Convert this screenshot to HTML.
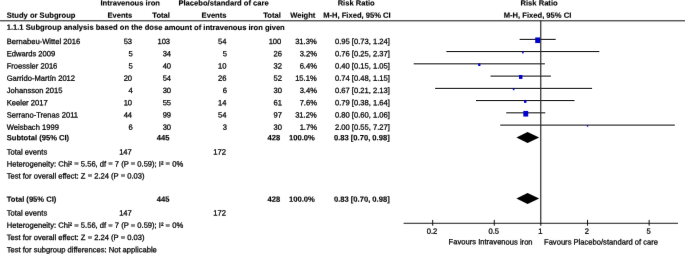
<!DOCTYPE html>
<html><head><meta charset="utf-8"><title>Forest plot</title>
<style>
html,body{margin:0;padding:0;background:#fff;overflow:hidden;}
svg{display:block;}
text{font-family:"Liberation Sans",sans-serif;font-size:7.6px;fill:#000;text-rendering:geometricPrecision;stroke:#000;stroke-width:0.26px;}
text[font-weight=bold]{stroke-width:0.14px;}
text.eq{stroke-width:0.32px;}
</style></head><body>
<svg width="685" height="254" viewBox="0 0 685 254">
<defs><filter id="bl" x="0" y="0" width="685" height="254" filterUnits="userSpaceOnUse" color-interpolation-filters="sRGB"><feConvolveMatrix order="3" kernelMatrix="0.0028 0.0470 0.0028 0.0470 0.8008 0.0470 0.0028 0.0470 0.0028" edgeMode="none" preserveAlpha="false"/></filter></defs>
<rect width="685" height="254" fill="#fff"/>
<g>
<line x1="520.13" y1="39.35" x2="555.18" y2="39.35" stroke="#000" stroke-width="0.95" stroke-linecap="square"/>
<line x1="446.90" y1="51.60" x2="598.82" y2="51.60" stroke="#000" stroke-width="0.95" stroke-linecap="square"/>
<line x1="414.20" y1="63.85" x2="544.36" y2="63.85" stroke="#000" stroke-width="0.95" stroke-linecap="square"/>
<line x1="491.04" y1="76.10" x2="550.40" y2="76.10" stroke="#000" stroke-width="0.95" stroke-linecap="square"/>
<line x1="435.65" y1="88.35" x2="591.61" y2="88.35" stroke="#000" stroke-width="0.95" stroke-linecap="square"/>
<line x1="476.47" y1="100.60" x2="574.00" y2="100.60" stroke="#000" stroke-width="0.95" stroke-linecap="square"/>
<line x1="506.73" y1="112.85" x2="544.78" y2="112.85" stroke="#000" stroke-width="0.95" stroke-linecap="square"/>
<line x1="500.75" y1="125.10" x2="674.28" y2="125.10" stroke="#000" stroke-width="0.95" stroke-linecap="square"/>
</g>
<g filter="url(#bl)">
<rect x="535.21" y="37.45" width="4.90" height="5.60" fill="#0000cc"/>
<rect x="522.08" y="51.60" width="1.57" height="1.79" fill="#0000cc"/>
<rect x="478.17" y="63.48" width="2.22" height="2.53" fill="#0000cc"/>
<rect x="519.02" y="75.06" width="3.40" height="3.89" fill="#0000cc"/>
<rect x="512.82" y="88.33" width="1.61" height="1.85" fill="#0000cc"/>
<rect x="524.03" y="100.12" width="2.41" height="2.76" fill="#0000cc"/>
<rect x="523.31" y="110.95" width="4.89" height="5.59" fill="#0000cc"/>
<rect x="586.86" y="125.25" width="1.30" height="1.50" fill="#0000cc"/>
<polygon points="516.41,137.4 527.57,131.9 539.14,137.4 527.57,142.9" fill="#000"/>
<polygon points="516.41,198.5 527.57,193.0 539.14,198.5 527.57,204.0" fill="#000"/>
<rect x="0" y="20.3" width="685" height="1" fill="#111"/>
<rect x="540.15" y="20.3" width="1.2" height="205.4" fill="#2c2c2c"/>
<rect x="403.6" y="222.8" width="274.4" height="0.9" fill="#000"/>
<rect x="432.17" y="219.9" width="1" height="5.8" fill="#111"/>
<rect x="493.79" y="219.9" width="1" height="5.8" fill="#111"/>
<rect x="587.01" y="219.9" width="1" height="5.8" fill="#111"/>
<rect x="648.63" y="219.9" width="1" height="5.8" fill="#111"/>
<text x="130.20" y="5.55" font-weight="bold" text-anchor="middle" transform="rotate(0.03 130.20 5.55)">Intravenous iron</text>
<text x="223.60" y="5.55" font-weight="bold" text-anchor="middle" transform="rotate(0.03 223.60 5.55)">Placebo/standard of care</text>
<text x="356.20" y="5.55" font-weight="bold" text-anchor="middle" transform="rotate(0.03 356.20 5.55)">Risk Ratio</text>
<text x="539.10" y="5.55" font-weight="bold" text-anchor="middle" transform="rotate(0.03 539.10 5.55)">Risk Ratio</text>
<text x="6.70" y="17.80" font-weight="bold" transform="rotate(0.03 6.70 17.80)">Study or Subgroup</text>
<text x="132.30" y="17.80" font-weight="bold" text-anchor="end" transform="rotate(0.03 132.30 17.80)">Events</text>
<text x="169.90" y="17.80" font-weight="bold" text-anchor="end" transform="rotate(0.03 169.90 17.80)">Total</text>
<text x="226.50" y="17.80" font-weight="bold" text-anchor="end" transform="rotate(0.03 226.50 17.80)">Events</text>
<text x="280.80" y="17.80" font-weight="bold" text-anchor="end" transform="rotate(0.03 280.80 17.80)">Total</text>
<text x="315.30" y="17.80" font-weight="bold" text-anchor="end" transform="rotate(0.03 315.30 17.80)">Weight</text>
<text x="390.70" y="17.80" font-weight="bold" text-anchor="end" transform="rotate(0.03 390.70 17.80)">M-H, Fixed, 95% CI</text>
<text x="537.50" y="17.80" font-weight="bold" text-anchor="middle" transform="rotate(0.03 537.50 17.80)">M-H, Fixed, 95% CI</text>
<text x="6.70" y="29.80" font-weight="bold" transform="rotate(0.03 6.70 29.80)">1.1.1 Subgroup analysis based on the dose amount of intravenous iron given</text>
<text x="6.70" y="44.00" transform="rotate(0.03 6.70 44.00)">Bernabeu-Wittel 2016</text>
<text x="132.10" y="44.00" text-anchor="end" transform="rotate(0.03 132.10 44.00)">53</text>
<text x="170.10" y="44.00" text-anchor="end" transform="rotate(0.03 170.10 44.00)">103</text>
<text x="226.40" y="44.00" text-anchor="end" transform="rotate(0.03 226.40 44.00)">54</text>
<text x="281.30" y="44.00" text-anchor="end" transform="rotate(0.03 281.30 44.00)">100</text>
<text x="316.70" y="44.00" text-anchor="end" transform="rotate(0.03 316.70 44.00)">31.3%</text>
<text x="389.80" y="44.00" text-anchor="end" transform="rotate(0.03 389.80 44.00)">0.95 [0.73, 1.24]</text>
<text x="6.70" y="56.25" transform="rotate(0.03 6.70 56.25)">Edwards 2009</text>
<text x="132.70" y="56.25" text-anchor="end" transform="rotate(0.03 132.70 56.25)">5</text>
<text x="171.10" y="56.25" text-anchor="end" transform="rotate(0.03 171.10 56.25)">34</text>
<text x="227.10" y="56.25" text-anchor="end" transform="rotate(0.03 227.10 56.25)">5</text>
<text x="282.00" y="56.25" text-anchor="end" transform="rotate(0.03 282.00 56.25)">26</text>
<text x="316.95" y="56.25" text-anchor="end" transform="rotate(0.03 316.95 56.25)">3.2%</text>
<text x="389.80" y="56.25" text-anchor="end" transform="rotate(0.03 389.80 56.25)">0.76 [0.25, 2.37]</text>
<text x="6.70" y="68.50" transform="rotate(0.03 6.70 68.50)">Froessler 2016</text>
<text x="132.70" y="68.50" text-anchor="end" transform="rotate(0.03 132.70 68.50)">5</text>
<text x="171.10" y="68.50" text-anchor="end" transform="rotate(0.03 171.10 68.50)">40</text>
<text x="226.40" y="68.50" text-anchor="end" transform="rotate(0.03 226.40 68.50)">10</text>
<text x="282.00" y="68.50" text-anchor="end" transform="rotate(0.03 282.00 68.50)">32</text>
<text x="316.95" y="68.50" text-anchor="end" transform="rotate(0.03 316.95 68.50)">6.4%</text>
<text x="389.80" y="68.50" text-anchor="end" transform="rotate(0.03 389.80 68.50)">0.40 [0.15, 1.05]</text>
<text x="6.70" y="80.75" transform="rotate(0.03 6.70 80.75)">Garrido-Martín 2012</text>
<text x="132.10" y="80.75" text-anchor="end" transform="rotate(0.03 132.10 80.75)">20</text>
<text x="171.10" y="80.75" text-anchor="end" transform="rotate(0.03 171.10 80.75)">54</text>
<text x="226.40" y="80.75" text-anchor="end" transform="rotate(0.03 226.40 80.75)">26</text>
<text x="282.00" y="80.75" text-anchor="end" transform="rotate(0.03 282.00 80.75)">52</text>
<text x="316.70" y="80.75" text-anchor="end" transform="rotate(0.03 316.70 80.75)">15.1%</text>
<text x="389.80" y="80.75" text-anchor="end" transform="rotate(0.03 389.80 80.75)">0.74 [0.48, 1.15]</text>
<text x="6.70" y="93.00" transform="rotate(0.03 6.70 93.00)">Johansson 2015</text>
<text x="132.70" y="93.00" text-anchor="end" transform="rotate(0.03 132.70 93.00)">4</text>
<text x="171.10" y="93.00" text-anchor="end" transform="rotate(0.03 171.10 93.00)">30</text>
<text x="227.10" y="93.00" text-anchor="end" transform="rotate(0.03 227.10 93.00)">6</text>
<text x="282.00" y="93.00" text-anchor="end" transform="rotate(0.03 282.00 93.00)">30</text>
<text x="316.95" y="93.00" text-anchor="end" transform="rotate(0.03 316.95 93.00)">3.4%</text>
<text x="389.80" y="93.00" text-anchor="end" transform="rotate(0.03 389.80 93.00)">0.67 [0.21, 2.13]</text>
<text x="6.70" y="105.25" transform="rotate(0.03 6.70 105.25)">Keeler 2017</text>
<text x="132.10" y="105.25" text-anchor="end" transform="rotate(0.03 132.10 105.25)">10</text>
<text x="171.10" y="105.25" text-anchor="end" transform="rotate(0.03 171.10 105.25)">55</text>
<text x="226.40" y="105.25" text-anchor="end" transform="rotate(0.03 226.40 105.25)">14</text>
<text x="282.00" y="105.25" text-anchor="end" transform="rotate(0.03 282.00 105.25)">61</text>
<text x="316.95" y="105.25" text-anchor="end" transform="rotate(0.03 316.95 105.25)">7.6%</text>
<text x="389.80" y="105.25" text-anchor="end" transform="rotate(0.03 389.80 105.25)">0.79 [0.38, 1.64]</text>
<text x="6.70" y="117.50" transform="rotate(0.03 6.70 117.50)">Serrano-Trenas 2011</text>
<text x="132.10" y="117.50" text-anchor="end" transform="rotate(0.03 132.10 117.50)">44</text>
<text x="171.10" y="117.50" text-anchor="end" transform="rotate(0.03 171.10 117.50)">99</text>
<text x="226.40" y="117.50" text-anchor="end" transform="rotate(0.03 226.40 117.50)">54</text>
<text x="282.00" y="117.50" text-anchor="end" transform="rotate(0.03 282.00 117.50)">97</text>
<text x="316.70" y="117.50" text-anchor="end" transform="rotate(0.03 316.70 117.50)">31.2%</text>
<text x="389.80" y="117.50" text-anchor="end" transform="rotate(0.03 389.80 117.50)">0.80 [0.60, 1.06]</text>
<text x="6.70" y="129.75" transform="rotate(0.03 6.70 129.75)">Weisbach 1999</text>
<text x="132.70" y="129.75" text-anchor="end" transform="rotate(0.03 132.70 129.75)">6</text>
<text x="171.10" y="129.75" text-anchor="end" transform="rotate(0.03 171.10 129.75)">30</text>
<text x="227.10" y="129.75" text-anchor="end" transform="rotate(0.03 227.10 129.75)">3</text>
<text x="282.00" y="129.75" text-anchor="end" transform="rotate(0.03 282.00 129.75)">30</text>
<text x="316.95" y="129.75" text-anchor="end" transform="rotate(0.03 316.95 129.75)">1.7%</text>
<text x="389.80" y="129.75" text-anchor="end" transform="rotate(0.03 389.80 129.75)">2.00 [0.55, 7.27]</text>
<text x="6.70" y="140.20" font-weight="bold" transform="rotate(0.03 6.70 140.20)">Subtotal (95% CI)</text>
<text x="169.50" y="140.20" font-weight="bold" text-anchor="end" transform="rotate(0.03 169.50 140.20)">445</text>
<text x="280.20" y="140.20" font-weight="bold" text-anchor="end" transform="rotate(0.03 280.20 140.20)">428</text>
<text x="314.80" y="140.20" font-weight="bold" text-anchor="end" transform="rotate(0.03 314.80 140.20)">100.0%</text>
<text x="389.70" y="140.20" font-weight="bold" text-anchor="end" transform="rotate(0.03 389.70 140.20)">0.83 [0.70, 0.98]</text>
<text x="6.70" y="154.40" transform="rotate(0.03 6.70 154.40)">Total events</text>
<text x="131.80" y="154.40" text-anchor="end" transform="rotate(0.03 131.80 154.40)">147</text>
<text x="226.00" y="154.40" text-anchor="end" transform="rotate(0.03 226.00 154.40)">172</text>
<text x="6.70" y="166.50" transform="rotate(0.03 6.70 166.50)">Heterogeneity: Chi²</text>
<text class="eq" x="74.29" y="166.50" transform="translate(0 163.85) scale(1 0.62) translate(0 -163.85) rotate(0.03 74.29 166.50)">=</text>
<text x="80.84" y="166.50" transform="rotate(0.03 80.84 166.50)">5.56, df</text>
<text class="eq" x="108.30" y="166.50" transform="translate(0 163.85) scale(1 0.62) translate(0 -163.85) rotate(0.03 108.30 166.50)">=</text>
<text x="114.85" y="166.50" transform="rotate(0.03 114.85 166.50)">7 (P</text>
<text class="eq" x="130.76" y="166.50" transform="translate(0 163.85) scale(1 0.62) translate(0 -163.85) rotate(0.03 130.76 166.50)">=</text>
<text x="137.32" y="166.50" transform="rotate(0.03 137.32 166.50)">0.59); I²</text>
<text class="eq" x="165.61" y="166.50" transform="translate(0 163.85) scale(1 0.62) translate(0 -163.85) rotate(0.03 165.61 166.50)">=</text>
<text x="172.17" y="166.50" transform="rotate(0.03 172.17 166.50)">0%</text>
<text x="6.70" y="178.40" transform="rotate(0.03 6.70 178.40)">Test for overall effect: Z</text>
<text class="eq" x="87.66" y="178.40" transform="translate(0 175.75) scale(1 0.62) translate(0 -175.75) rotate(0.03 87.66 178.40)">=</text>
<text x="94.21" y="178.40" transform="rotate(0.03 94.21 178.40)">2.24 (P</text>
<text class="eq" x="120.69" y="178.40" transform="translate(0 175.75) scale(1 0.62) translate(0 -175.75) rotate(0.03 120.69 178.40)">=</text>
<text x="127.24" y="178.40" transform="rotate(0.03 127.24 178.40)">0.03)</text>
<text x="6.70" y="201.80" font-weight="bold" transform="rotate(0.03 6.70 201.80)">Total (95% CI)</text>
<text x="169.50" y="201.80" font-weight="bold" text-anchor="end" transform="rotate(0.03 169.50 201.80)">445</text>
<text x="280.20" y="201.80" font-weight="bold" text-anchor="end" transform="rotate(0.03 280.20 201.80)">428</text>
<text x="314.80" y="201.80" font-weight="bold" text-anchor="end" transform="rotate(0.03 314.80 201.80)">100.0%</text>
<text x="389.70" y="201.80" font-weight="bold" text-anchor="end" transform="rotate(0.03 389.70 201.80)">0.83 [0.70, 0.98]</text>
<text x="6.70" y="215.40" transform="rotate(0.03 6.70 215.40)">Total events</text>
<text x="131.80" y="215.40" text-anchor="end" transform="rotate(0.03 131.80 215.40)">147</text>
<text x="226.00" y="215.40" text-anchor="end" transform="rotate(0.03 226.00 215.40)">172</text>
<text x="6.70" y="227.70" transform="rotate(0.03 6.70 227.70)">Heterogeneity: Chi²</text>
<text class="eq" x="74.29" y="227.70" transform="translate(0 225.05) scale(1 0.62) translate(0 -225.05) rotate(0.03 74.29 227.70)">=</text>
<text x="80.84" y="227.70" transform="rotate(0.03 80.84 227.70)">5.56, df</text>
<text class="eq" x="108.30" y="227.70" transform="translate(0 225.05) scale(1 0.62) translate(0 -225.05) rotate(0.03 108.30 227.70)">=</text>
<text x="114.85" y="227.70" transform="rotate(0.03 114.85 227.70)">7 (P</text>
<text class="eq" x="130.76" y="227.70" transform="translate(0 225.05) scale(1 0.62) translate(0 -225.05) rotate(0.03 130.76 227.70)">=</text>
<text x="137.32" y="227.70" transform="rotate(0.03 137.32 227.70)">0.59); I²</text>
<text class="eq" x="165.61" y="227.70" transform="translate(0 225.05) scale(1 0.62) translate(0 -225.05) rotate(0.03 165.61 227.70)">=</text>
<text x="172.17" y="227.70" transform="rotate(0.03 172.17 227.70)">0%</text>
<text x="6.70" y="240.00" transform="rotate(0.03 6.70 240.00)">Test for overall effect: Z</text>
<text class="eq" x="87.66" y="240.00" transform="translate(0 237.35) scale(1 0.62) translate(0 -237.35) rotate(0.03 87.66 240.00)">=</text>
<text x="94.21" y="240.00" transform="rotate(0.03 94.21 240.00)">2.24 (P</text>
<text class="eq" x="120.69" y="240.00" transform="translate(0 237.35) scale(1 0.62) translate(0 -237.35) rotate(0.03 120.69 240.00)">=</text>
<text x="127.24" y="240.00" transform="rotate(0.03 127.24 240.00)">0.03)</text>
<text x="6.70" y="252.20" transform="rotate(0.03 6.70 252.20)">Test for subgroup differences: Not applicable</text>
<text x="432.07" y="233.80" text-anchor="middle" transform="rotate(0.03 432.07 233.80)">0.2</text>
<text x="493.69" y="233.80" text-anchor="middle" transform="rotate(0.03 493.69 233.80)">0.5</text>
<text x="540.30" y="233.80" text-anchor="middle" transform="rotate(0.03 540.30 233.80)">1</text>
<text x="586.91" y="233.80" text-anchor="middle" transform="rotate(0.03 586.91 233.80)">2</text>
<text x="648.53" y="233.80" text-anchor="middle" transform="rotate(0.03 648.53 233.80)">5</text>
<text x="532.60" y="244.40" text-anchor="end" transform="rotate(0.03 532.60 244.40)">Favours Intravenous iron</text>
<text x="544.00" y="244.40" transform="rotate(0.03 544.00 244.40)">Favours Placebo/standard of care</text>
</g>
</svg>
</body></html>
